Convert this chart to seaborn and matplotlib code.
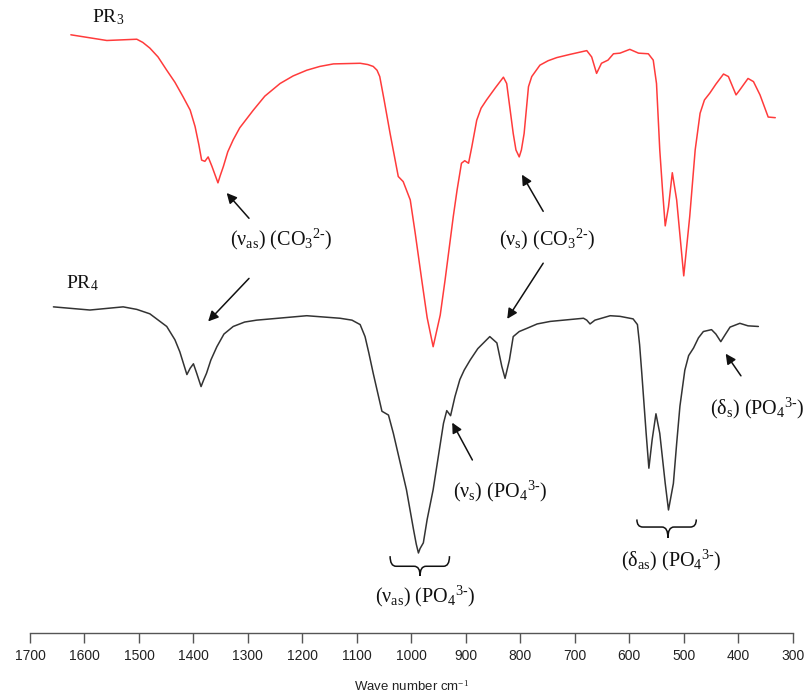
import numpy as np
import pandas as pd
import seaborn as sns
import matplotlib
matplotlib.use("Agg")
import matplotlib.pyplot as plt
from matplotlib.path import Path
from matplotlib.patches import PathPatch

# ---------------- data (wavenumber cm-1, relative transmittance) ----------------
pr3_wn = [1625, 1559, 1504, 1493, 1480, 1465, 1449, 1434, 1419, 1406, 1397, 1390,
          1385, 1379, 1373, 1366, 1355, 1351, 1345, 1337, 1327, 1315, 1290, 1269,
          1241, 1217, 1192, 1168, 1143, 1094, 1080, 1070, 1063, 1058, 1050, 1039,
          1024, 1015, 1002, 993, 981, 971, 960, 947, 938, 923, 916, 908, 902, 895,
          889, 880, 872, 862, 846, 831, 825, 813, 808, 802, 798, 793, 785, 779,
          764, 749, 733, 709, 678, 669, 660, 651, 639, 629, 617, 599, 583, 565,
          556, 550, 544, 539, 534, 528, 521, 513, 500, 489, 479, 470, 462, 452,
          441, 427, 418, 404, 397, 382, 372, 360, 345, 332]
pr3_t = [94.5, 93.6, 93.8, 93.3, 92.4, 91.0, 88.9, 87.0, 84.7, 82.6, 80.0, 77.1,
         74.7, 74.5, 75.2, 73.7, 71.1, 72.2, 73.7, 76.0, 77.9, 79.8, 82.6, 84.8,
         86.8, 88.0, 88.9, 89.5, 89.9, 90.0, 89.8, 89.5, 88.9, 87.9, 84.2, 78.9,
         72.1, 71.3, 68.4, 63.2, 55.8, 49.8, 45.2, 50.2, 55.8, 65.8, 70.0, 74.2,
         74.6, 74.2, 76.8, 81.0, 82.9, 84.2, 86.1, 87.8, 86.8, 78.9, 76.3, 75.2,
         76.3, 78.9, 86.3, 87.9, 89.7, 90.4, 90.9, 91.4, 92.0, 91.0, 88.4, 90.0,
         90.5, 91.5, 91.6, 92.2, 91.6, 91.5, 90.5, 86.8, 76.3, 70.0, 64.3, 67.3,
         72.7, 68.4, 56.4, 65.8, 76.3, 82.1, 84.2, 85.3, 86.7, 88.3, 87.9, 85.0,
         85.8, 87.6, 87.1, 85.0, 81.5, 81.4]

pr4_wn = [1657, 1590, 1529, 1504, 1480, 1449, 1434, 1425, 1412, 1406, 1400, 1394,
          1386, 1381, 1376, 1368, 1357, 1344, 1327, 1306, 1284, 1192, 1131, 1109,
          1094, 1085, 1078, 1070, 1054, 1042, 1033, 1009, 996, 991, 987, 984, 978,
          971, 960, 941, 935, 928, 920, 911, 903, 892, 878, 856, 843, 834, 828,
          820, 813, 802, 788, 769, 745, 684, 678, 672, 663, 635, 617, 593, 585,
          581, 577, 569, 564, 558, 551, 544, 534, 528, 519, 513, 507, 498, 491,
          482, 473, 464, 449, 441, 432, 424, 415, 397, 382, 363]
pr4_t = [51.5, 51.0, 51.5, 51.1, 50.4, 48.4, 46.3, 44.4, 40.8, 41.8, 42.5, 41.0,
         38.9, 40.0, 41.0, 43.1, 45.2, 47.2, 48.4, 49.1, 49.4, 50.1, 49.7, 49.4,
         48.7, 46.8, 44.2, 41.0, 35.0, 34.4, 31.5, 22.6, 16.3, 14.0, 12.6, 13.3,
         14.2, 17.9, 22.6, 33.1, 35.1, 34.3, 37.3, 40.0, 41.5, 43.1, 44.9, 46.8,
         45.8, 42.1, 40.2, 43.1, 46.8, 47.6, 48.1, 48.8, 49.2, 49.7, 49.4, 48.8,
         49.4, 50.1, 50.0, 49.6, 48.7, 45.5, 41.0, 31.5, 26.0, 30.5, 34.6, 31.5,
         23.6, 19.4, 23.6, 29.9, 35.8, 41.5, 43.8, 45.0, 46.6, 47.6, 47.9, 47.2,
         46.0, 47.1, 48.3, 48.9, 48.5, 48.4]

x_ticks = [1700, 1600, 1500, 1400, 1300, 1200, 1100, 1000, 900, 800, 700, 600, 500, 400, 300]

# ---------------- figure ----------------
sns.set_theme(style="white")
plt.rcParams["font.family"] = ["Liberation Sans", "DejaVu Sans"]
plt.rcParams["mathtext.fontset"] = "custom"
plt.rcParams["mathtext.rm"] = "Liberation Serif"
plt.rcParams["mathtext.it"] = "Liberation Serif:italic"
plt.rcParams["mathtext.bf"] = "Liberation Serif:bold"

fig = plt.figure(figsize=(8.06, 6.96), dpi=100)
W, H = 806, 696
ax = fig.add_axes([30 / W, (H - 632.7) / H, (792.7 - 30) / W, 632.7 / H])

df3 = pd.DataFrame({"wn": pr3_wn, "T": pr3_t})
df4 = pd.DataFrame({"wn": pr4_wn, "T": pr4_t})
sns.lineplot(data=df3, x="wn", y="T", ax=ax, color="#ff3b3b", lw=1.1, sort=False)
sns.lineplot(data=df4, x="wn", y="T", ax=ax, color="#333333", lw=1.1, sort=False)
for ln in ax.get_lines():
    ln.set_solid_joinstyle("round")

ax.set_xlim(1700, 300)
ax.set_ylim(0, 100)
ax.set_xticks(x_ticks)
ax.set_xticklabels([str(t) for t in x_ticks], fontsize=10, color="#222222")
ax.set_yticks([])
ax.set_ylabel("")
ax.set_xlabel("Wave number cm$^{-1}$", fontsize=9.5, color="#222222", labelpad=11,
              fontfamily="Liberation Sans")
for s in ["left", "top", "right"]:
    ax.spines[s].set_visible(False)
ax.spines["bottom"].set_color("#555555")
ax.spines["bottom"].set_linewidth(1.0)
ax.tick_params(axis="x", direction="out", length=7, width=1.0, color="#555555", pad=5,
               bottom=True)
ax.patch.set_alpha(0)

serif = "Liberation Serif"
fs = 14.5

# curve labels
ax.text(1586, 96.4, "PR$_3$", fontsize=14, family=serif, ha="left", va="baseline", color="#111111")
ax.text(1634, 54.5, "PR$_4$", fontsize=14, family=serif, ha="left", va="baseline", color="#111111")

def arrow(tail, head):
    ax.annotate("", xy=head, xytext=tail,
                arrowprops=dict(arrowstyle="-|>", color="#111111", lw=1.1,
                                mutation_scale=15, shrinkA=0, shrinkB=0))

def label(x, y, s):
    ax.text(x, y, s, fontsize=fs, family=serif, ha="center", va="center", color="#111111")

def brace(xl, xr, ytop, ymid, ytip, xtip):
    d = (xr - xl) * 0.10
    codes = [Path.MOVETO, Path.CURVE3, Path.CURVE3, Path.LINETO, Path.CURVE3, Path.CURVE3,
             Path.CURVE3, Path.CURVE3, Path.LINETO, Path.CURVE3, Path.CURVE3]
    verts = [(xl, ytop), (xl, ymid), (xl + d, ymid), (xtip - d, ymid),
             (xtip, ymid), (xtip, ytip), (xtip, ymid), (xtip + d, ymid),
             (xr - d, ymid), (xr, ymid), (xr, ytop)]
    ax.add_patch(PathPatch(Path(verts, codes), fill=False, lw=1.1, ec="#111111"))

# CO3 asymmetric
arrow((1298, 65.5), (1339, 69.5))
arrow((1298, 56.0), (1373, 49.2))
label(1239, 62.1, r"($\mathrm{\nu}_{\mathrm{as}}$) (CO$_3{}^{2\text{-}}$)")

# CO3 symmetric
arrow((758, 66.6), (797, 72.4))
arrow((758, 58.4), (824, 49.6))
label(751, 62.1, r"($\mathrm{\nu}_{\mathrm{s}}$) (CO$_3{}^{2\text{-}}$)")

# PO4 symmetric stretch
arrow((888, 27.3), (925, 33.2))
label(837, 22.3, r"($\mathrm{\nu}_{\mathrm{s}}$) (PO$_4{}^{3\text{-}}$)")

# PO4 asymmetric stretch
brace(1039, 930, 12.1, 10.5, 9.0, 984)
label(975, 5.7, r"($\mathrm{\nu}_{\mathrm{as}}$) (PO$_4{}^{3\text{-}}$)")

# PO4 asymmetric bending
brace(586, 477, 17.9, 16.7, 15.0, 529)
label(523, 11.5, r"($\mathrm{\delta}_{\mathrm{as}}$) (PO$_4{}^{3\text{-}}$)")

# PO4 symmetric bending
arrow((395, 40.6), (423, 44.1))
label(366, 35.4, r"($\mathrm{\delta}_{\mathrm{s}}$) (PO$_4{}^{3\text{-}}$)")

fig.savefig("out.png", dpi=100, facecolor="white")
